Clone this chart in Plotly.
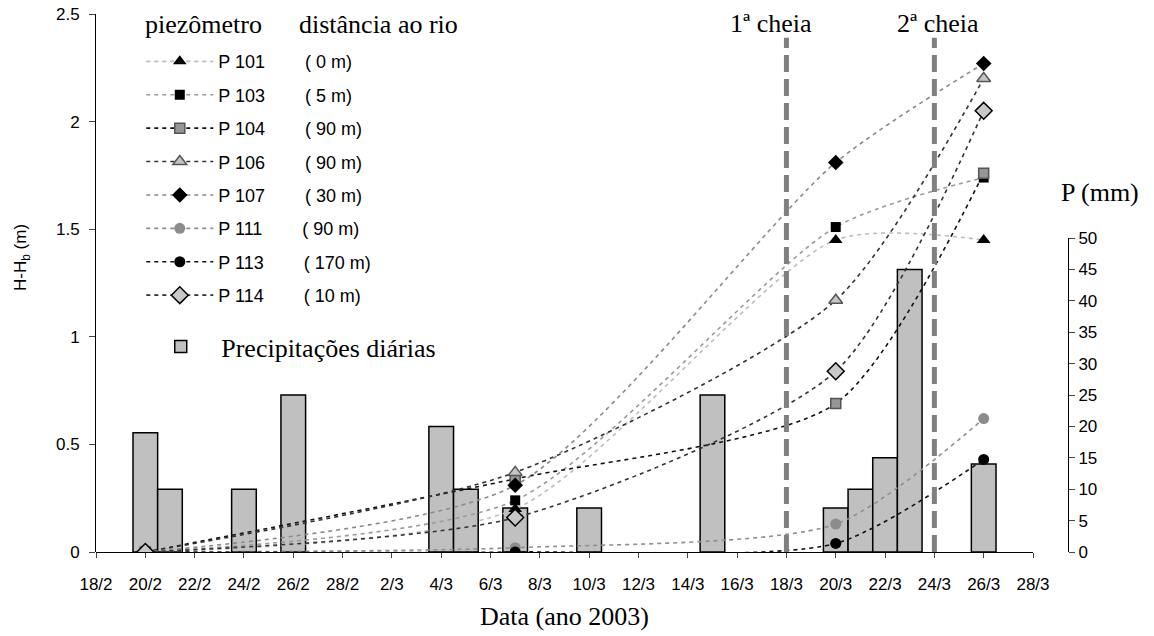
import plotly.graph_objects as go

# leituras dos piezometros (H-Hb, m)
datas_leitura = ["2003-02-20", "2003-03-07", "2003-03-20", "2003-03-26"]
piezometros = ["P 101", "P 103", "P 104", "P 106", "P 107", "P 111", "P 113", "P 114"]
distancias = ["( 0 m)", "( 5 m)", "( 90 m)", "( 90 m)", "( 30 m)", "( 90 m)", "( 170 m)", "( 10 m)"]
p101 = [0, 0.20, 1.45, 1.45]
p103 = [0, 0.24, 1.51, 1.74]
p104 = [0, 0.34, 0.69, 1.76]
p106 = [0, 0.37, 1.17, 2.20]
p107 = [0, 0.31, 1.81, 2.27]
p111 = [0, 0.02, 0.13, 0.62]
p113 = [0, 0.00, 0.04, 0.43]
p114 = [0, 0.16, 0.84, 2.05]

# precipitacoes diarias (mm)
datas_chuva = ["2003-02-20", "2003-02-21", "2003-02-24", "2003-02-26", "2003-03-04", "2003-03-05",
               "2003-03-07", "2003-03-10", "2003-03-15", "2003-03-20", "2003-03-21", "2003-03-22",
               "2003-03-23", "2003-03-26"]
chuva_mm = [19, 10, 10, 25, 20, 10, 7, 7, 25, 7, 10, 15, 45, 14]

cheias = ["2003-03-18", "2003-03-24"]
cheias_txt = ["1ª cheia", "2ª cheia"]

tick_datas = ["2003-02-18", "2003-02-20", "2003-02-22", "2003-02-24", "2003-02-26", "2003-02-28",
              "2003-03-02", "2003-03-04", "2003-03-06", "2003-03-08", "2003-03-10", "2003-03-12",
              "2003-03-14", "2003-03-16", "2003-03-18", "2003-03-20", "2003-03-22", "2003-03-24",
              "2003-03-26", "2003-03-28"]
tick_txt = ["18/2", "20/2", "22/2", "24/2", "26/2", "28/2", "2/3", "4/3", "6/3", "8/3", "10/3",
            "12/3", "14/3", "16/3", "18/3", "20/3", "22/3", "24/3", "26/3", "28/3"]

ARIAL = "Arial, Liberation Sans, sans-serif"
TIMES = "Times New Roman, Liberation Serif, serif"

series = [p101, p103, p104, p106, p107, p111, p113, p114]
estilos = [
    ("#bdbdbd", dict(symbol="triangle-up", color="black", size=12)),
    ("#9a9a9a", dict(symbol="square", color="black", size=10)),
    ("#111111", dict(symbol="square", color="#969696", size=10, line=dict(color="#555555", width=1.5))),
    ("#333333", dict(symbol="triangle-up", color="#c4c4c4", size=12, line=dict(color="#555555", width=1.5))),
    ("#8a8a8a", dict(symbol="diamond", color="black", size=12)),
    ("#8f8f8f", dict(symbol="circle", color="#8c8c8c", size=11)),
    ("#111111", dict(symbol="circle", color="black", size=11)),
    ("#333333", dict(symbol="diamond", color="#c8c8c8", size=13, line=dict(color="black", width=1.5))),
]

fig = go.Figure()

fig.add_trace(go.Bar(x=datas_chuva, y=chuva_mm, width=86400000, name="Precipitações diárias",
                     marker=dict(color="#c0c0c0", line=dict(color="black", width=1.5)),
                     xaxis="x", yaxis="y", legend="legend2"))

for nome, dist, vals, (cor, mk) in zip(piezometros, distancias, series, estilos):
    fig.add_trace(go.Scatter(
        x=datas_leitura, y=vals, mode="lines+markers",
        name=nome + "\u00a0" * 8 + dist, legendgroup=nome,
        line=dict(shape="spline", smoothing=0.7, dash="4px,4px", width=1.6, color=cor),
        marker=mk, xaxis="x", yaxis="y2", legend="legend"))

for d in cheias:
    fig.add_shape(type="line", xref="x", yref="y2", x0=d, x1=d, y0=0, y1=2.39,
                  line=dict(color="#808080", width=5, dash="17px,7px"), layer="above")

for d, t, sh in zip(cheias, cheias_txt, [-15, 4]):
    fig.add_annotation(x=d, xref="x", y=0.983, yref="paper", text=t, showarrow=False,
                       xshift=sh, xanchor="center", yanchor="middle",
                       font=dict(family=TIMES, size=26, color="black"))


def rotulo(texto, x, y, xanchor="center", fonte=TIMES, tam=26, ang=0):
    fig.add_annotation(x=x, y=y, xref="paper", yref="paper", text=texto, showarrow=False,
                       xanchor=xanchor, yanchor="middle", textangle=ang,
                       font=dict(family=fonte, size=tam, color="black"))


rotulo("piezômetro", 0.0484, 0.9796, xanchor="left")
rotulo("distância ao rio", 0.2068, 0.9796, xanchor="left")
rotulo("H-H<sub>b</sub> (m)", -0.0761, 0.5465, fonte=ARIAL, tam=17, ang=-90)
rotulo("P (mm)", 1.033, 0.669)
rotulo("Data (ano 2003)", 0.4815, -0.1208)

fig.update_layout(
    template="none",
    width=1154, height=636,
    margin=dict(l=96, r=86, t=14, b=84),
    plot_bgcolor="rgba(0,0,0,0)", paper_bgcolor="white",
    barmode="overlay",
    xaxis=dict(type="date", domain=[0, 0.964], range=["2003-02-18", "2003-03-28"],
               tickvals=tick_datas, ticktext=tick_txt, ticks="outside", ticklen=5,
               showline=True, linecolor="black", linewidth=1, showgrid=False, zeroline=False,
               tickfont=dict(family=ARIAL, size=17, color="black"), anchor="y",
               ticklabelstandoff=12, automargin=False),
    yaxis=dict(domain=[0, 0.5836], range=[0, 50], anchor="free", position=1, side="right",
               tickvals=[0, 5, 10, 15, 20, 25, 30, 35, 40, 45, 50], ticks="outside", ticklen=6,
               showline=True, linecolor="black", linewidth=1, showgrid=False, zeroline=False,
               tickfont=dict(family=ARIAL, size=17, color="black"), automargin=False),
    yaxis2=dict(domain=[0, 1], range=[0, 2.5], anchor="x", side="left",
                tickvals=[0, 0.5, 1, 1.5, 2, 2.5], ticktext=["0", "0.5", "1", "1.5", "2", "2.5"],
                ticks="outside", ticklen=6, showline=True, linecolor="black", linewidth=1,
                showgrid=False, zeroline=False, ticklabelstandoff=6, automargin=False,
                ticklabeloverflow="allow",
                tickfont=dict(family=ARIAL, size=17, color="black")),
    legend=dict(x=0.0466, y=0.9458, xanchor="left", yanchor="top", bgcolor="rgba(0,0,0,0)",
                font=dict(family=ARIAL, size=18, color="black"), itemwidth=67,
                tracegroupgap=7),
    legend2=dict(x=0.0455, y=0.4256, xanchor="left", yanchor="top", bgcolor="rgba(0,0,0,0)",
                 font=dict(family=TIMES, size=26, color="black"), itemwidth=71),
)

# tira a margem de 8 px do body para a figura ocupar a janela inteira
fig.write_html("out.html", config={"displayModeBar": False},
               post_script="document.body.style.margin='0px';")
